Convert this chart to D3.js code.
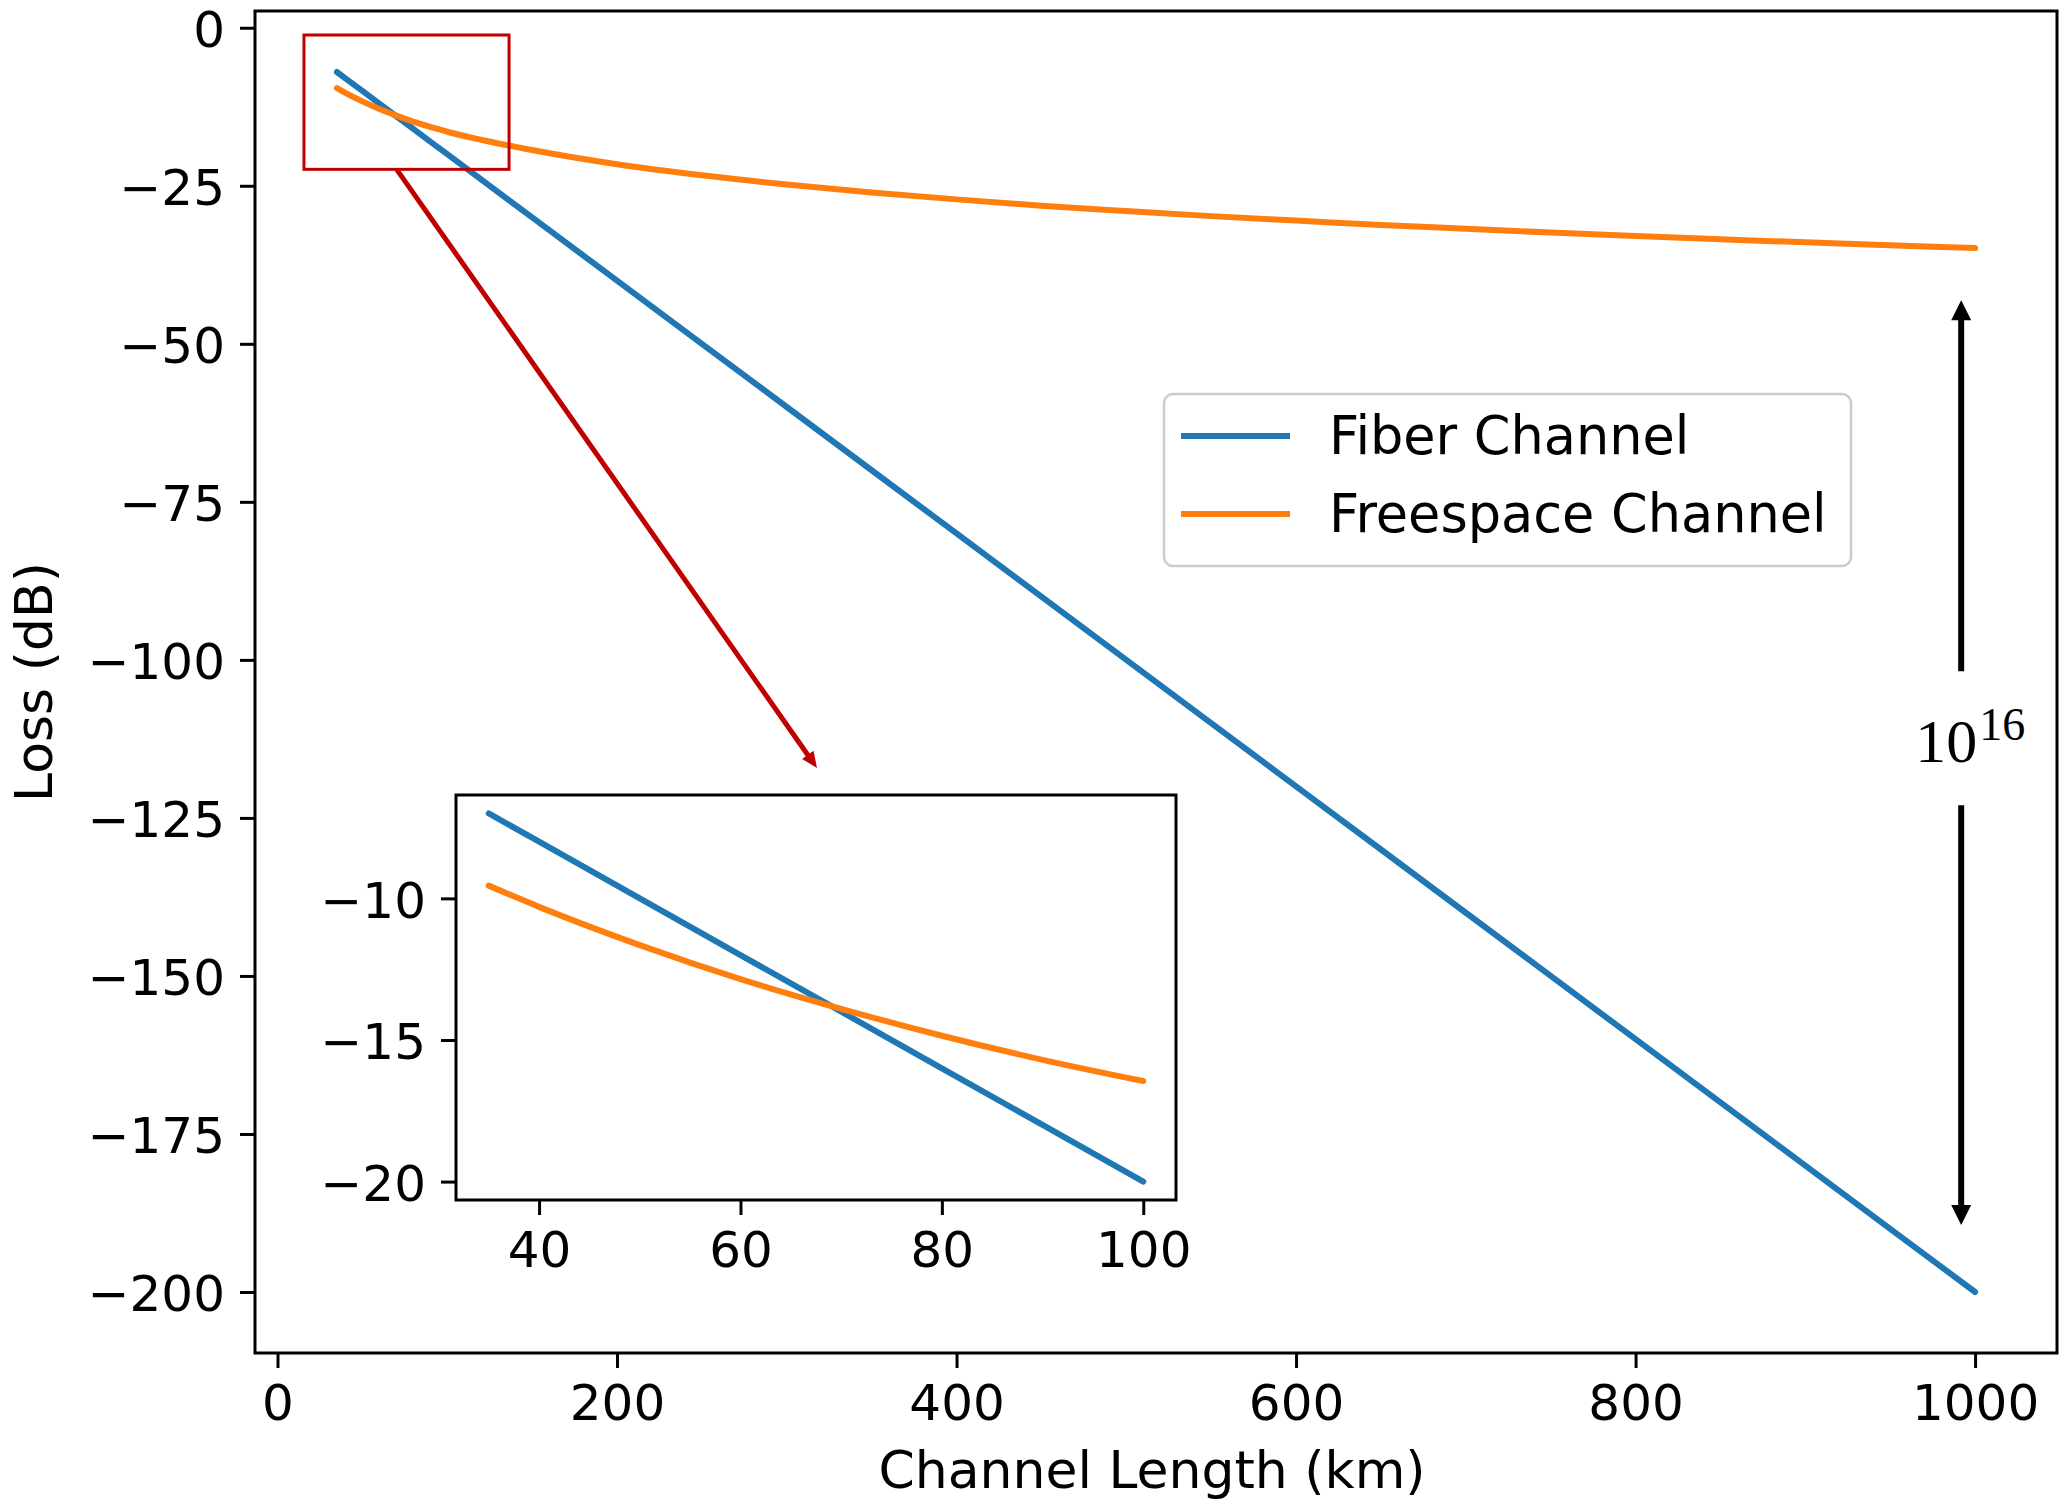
<!DOCTYPE html>
<html>
<head>
<meta charset="utf-8">
<script src="https://cdn.jsdelivr.net/npm/d3@7"></script>
<style>
  html, body { margin: 0; padding: 0; background: #ffffff; }
  svg { display: block; }
  text { font-family: "DejaVu Sans", sans-serif; fill: #000; }
</style>
</head>
<body>
<svg id="chart" width="2064" height="1506"></svg>
<script>
// ---------------- data ----------------
const distanceKm = [35, 40, 50, 60, 70, 80, 90, 100, 150, 200, 250, 300, 350, 400, 450,
                    500, 550, 600, 650, 700, 750, 800, 850, 900, 950, 1000];
const fiberLossDb = [-7, -8, -10, -12, -14, -16, -18, -20, -30, -40, -50, -60, -70, -80, -90,
                     -100, -110, -120, -130, -140, -150, -160, -170, -180, -190, -200];
const freespaceLossDb = [-9.55, -10.3, -11.65, -12.85, -13.9, -14.85, -15.7, -16.45, -19.35, -21.6,
                         -23.35, -24.8, -26.05, -27.15, -28.15, -29.0, -29.8, -30.5, -31.2, -31.8,
                         -32.4, -32.95, -33.45, -33.95, -34.4, -34.85];
const seriesNames = ["Fiber Channel", "Freespace Channel"];
const seriesColors = ["#1f77b4", "#ff7f0e"];
const xTicks = [0, 200, 400, 600, 800, 1000];
const yTicks = [0, -25, -50, -75, -100, -125, -150, -175, -200];
const insetMaxKm = 100;
const insetXTicks = [40, 60, 80, 100];
const insetYTicks = [-10, -15, -20];
const xLabel = "Channel Length (km)";
const yLabel = "Loss (dB)";
const ratioBase = "10";
const ratioExp = "16";
// annotation anchors in data units
const zoomBox = { x0: 15.6, x1: 136.4, y0: -1.15, y1: -22.4 };
const zoomArrow = { x0: 70.2, y0: -22.4, x1: 317.8, y1: -117.1 };
const gapArrow = { x: 991.8, top: -43.1, upperEnd: -101.8, lowerStart: -123.0, bottom: -189.4, labelX: 995.9, labelY: -116.1 };

// ---------------- layout ----------------
const svg = d3.select("#chart");
const FONT = 50;
const LABEL_FONT = 52;
const main = { left: 255, right: 2057, top: 11, bottom: 1353 };
const inset = { left: 456, right: 1176, top: 795, bottom: 1200 };

const rows = distanceKm.map((d, i) => ({ d, fiber: fiberLossDb[i], free: freespaceLossDb[i] }));

function padded(ext) { const m = (ext[1] - ext[0]) * 0.05; return [ext[0] - m, ext[1] + m]; }

const x = d3.scaleLinear().domain(padded(d3.extent(distanceKm))).range([main.left, main.right]);
const allY = fiberLossDb.concat(freespaceLossDb);
const y = d3.scaleLinear().domain(padded(d3.extent(allY))).range([main.bottom, main.top]);

const insetRows = rows.filter(r => r.d <= insetMaxKm);
const xi = d3.scaleLinear().domain(padded(d3.extent(insetRows, r => r.d))).range([inset.left, inset.right]);
const yi = d3.scaleLinear()
  .domain(padded(d3.extent(insetRows.flatMap(r => [r.fiber, r.free]))))
  .range([inset.bottom, inset.top]);

const fmt = d3.format("d");

function styleAxis(g) {
  g.select(".domain").remove();
  g.selectAll(".tick line").attr("stroke", "#000").attr("stroke-width", 3);
  g.selectAll(".tick text").style("font-size", FONT + "px").attr("fill", "#000");
}
function styleLeft(g) {
  styleAxis(g);
  g.selectAll(".tick text").attr("dy", "0.375em");
}

// ---------------- main axes ----------------
const lineFiber = d3.line().x(r => x(r.d)).y(r => y(r.fiber));
const lineFree = d3.line().curve(d3.curveMonotoneX).x(r => x(r.d)).y(r => y(r.free));

svg.append("g").attr("transform", `translate(0,${main.bottom})`)
  .call(d3.axisBottom(x).tickValues(xTicks).tickFormat(fmt).tickSize(15).tickPadding(16))
  .call(styleAxis);
svg.append("g").attr("transform", `translate(${main.left},0)`)
  .call(d3.axisLeft(y).tickValues(yTicks).tickFormat(fmt).tickSize(15).tickPadding(15))
  .call(styleLeft);

svg.append("path").datum(rows).attr("d", lineFiber)
  .attr("fill", "none").attr("stroke", seriesColors[0]).attr("stroke-width", 6).attr("stroke-linecap", "round");
svg.append("path").datum(rows).attr("d", lineFree)
  .attr("fill", "none").attr("stroke", seriesColors[1]).attr("stroke-width", 6).attr("stroke-linecap", "round");

svg.append("rect")
  .attr("x", main.left).attr("y", main.top)
  .attr("width", main.right - main.left).attr("height", main.bottom - main.top)
  .attr("fill", "none").attr("stroke", "#000").attr("stroke-width", 3);

// axis labels
svg.append("text").attr("x", (main.left + main.right) / 2 - 4).attr("y", 1488)
  .attr("text-anchor", "middle").style("font-size", LABEL_FONT + "px").text(xLabel);
svg.append("text").attr("transform", `translate(52,${(main.top + main.bottom) / 2}) rotate(-90)`)
  .attr("text-anchor", "middle").style("font-size", LABEL_FONT + "px").text(yLabel);

// ---------------- legend ----------------
const legend = svg.append("g");
legend.append("rect").attr("x", 1164).attr("y", 394).attr("width", 687).attr("height", 172)
  .attr("rx", 9).attr("fill", "#fff").attr("fill-opacity", 0.8)
  .attr("stroke", "#cccccc").attr("stroke-width", 2.5);
seriesNames.forEach((name, i) => {
  const cy = 436 + i * 78;
  legend.append("line").attr("x1", 1181).attr("x2", 1290).attr("y1", cy).attr("y2", cy)
    .attr("stroke", seriesColors[i]).attr("stroke-width", 6);
  legend.append("text").attr("x", 1329).attr("y", cy + 18)
    .style("font-size", "52.5px").text(name);
});

// ---------------- zoom annotation ----------------
const red = "#c00000";
svg.append("rect")
  .attr("x", x(zoomBox.x0)).attr("y", y(zoomBox.y0))
  .attr("width", x(zoomBox.x1) - x(zoomBox.x0)).attr("height", y(zoomBox.y1) - y(zoomBox.y0))
  .attr("fill", "none").attr("stroke", red).attr("stroke-width", 3);

function arrow(g, x0, y0, x1, y1, color, width, headLen, headHalf) {
  const dx = x1 - x0, dy = y1 - y0, L = Math.hypot(dx, dy);
  const ux = dx / L, uy = dy / L;
  const bx = x1 - ux * headLen, by = y1 - uy * headLen;
  g.append("line").attr("x1", x0).attr("y1", y0).attr("x2", bx + ux * 1).attr("y2", by + uy * 1)
    .attr("stroke", color).attr("stroke-width", width);
  g.append("path").attr("d", `M${x1},${y1}L${bx - uy * headHalf},${by + ux * headHalf}L${bx + uy * headHalf},${by - ux * headHalf}Z`)
    .attr("fill", color);
}
arrow(svg, x(zoomArrow.x0), y(zoomArrow.y0), x(zoomArrow.x1), y(zoomArrow.y1), red, 5, 16, 7);

// ---------------- 10^16 annotation ----------------
arrow(svg, x(gapArrow.x), y(gapArrow.upperEnd), x(gapArrow.x), y(gapArrow.top), "#000", 6, 20, 10);
arrow(svg, x(gapArrow.x), y(gapArrow.lowerStart), x(gapArrow.x), y(gapArrow.bottom), "#000", 6, 20, 10);
const ratioText = svg.append("text").attr("x", x(gapArrow.labelX) + 2).attr("y", y(gapArrow.labelY))
  .attr("text-anchor", "middle")
  .style("font-family", "'Liberation Serif', 'DejaVu Serif', serif").style("font-size", "62px");
ratioText.append("tspan").text(ratioBase);
ratioText.append("tspan").attr("dy", -22).attr("dx", 2).style("font-size", "46px").text(ratioExp);

// ---------------- inset ----------------
const gi = svg.append("g");
gi.append("rect").attr("x", inset.left).attr("y", inset.top)
  .attr("width", inset.right - inset.left).attr("height", inset.bottom - inset.top)
  .attr("fill", "#fff");
gi.append("g").attr("transform", `translate(0,${inset.bottom})`)
  .call(d3.axisBottom(xi).tickValues(insetXTicks).tickFormat(fmt).tickSize(15).tickPadding(16))
  .call(styleAxis);
gi.append("g").attr("transform", `translate(${inset.left},0)`)
  .call(d3.axisLeft(yi).tickValues(insetYTicks).tickFormat(fmt).tickSize(15).tickPadding(15))
  .call(styleLeft);
gi.append("path").datum(insetRows)
  .attr("d", d3.line().x(r => xi(r.d)).y(r => yi(r.fiber)))
  .attr("fill", "none").attr("stroke", seriesColors[0]).attr("stroke-width", 6).attr("stroke-linecap", "round");
gi.append("path").datum(insetRows)
  .attr("d", d3.line().curve(d3.curveMonotoneX).x(r => xi(r.d)).y(r => yi(r.free)))
  .attr("fill", "none").attr("stroke", seriesColors[1]).attr("stroke-width", 6).attr("stroke-linecap", "round");
gi.append("rect").attr("x", inset.left).attr("y", inset.top)
  .attr("width", inset.right - inset.left).attr("height", inset.bottom - inset.top)
  .attr("fill", "none").attr("stroke", "#000").attr("stroke-width", 3);
</script>
</body>
</html>
